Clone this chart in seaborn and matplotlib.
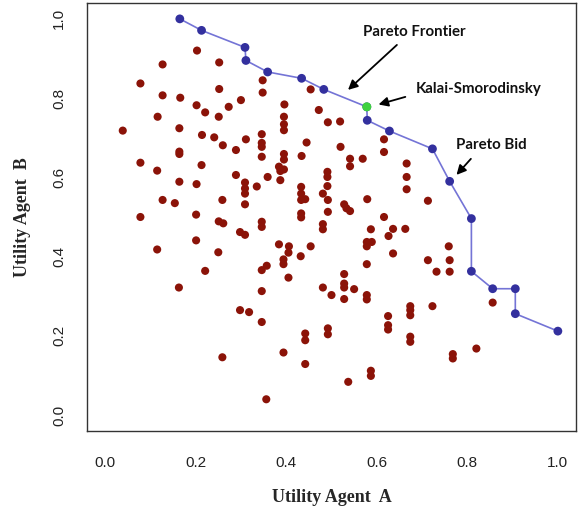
import matplotlib
matplotlib.use("Agg")
import matplotlib.pyplot as plt
import numpy as np
import pandas as pd
import seaborn as sns

# ---- data ----
bid_a = [0.203, 0.127, 0.252, 0.078, 0.127, 0.166, 0.252, 0.300, 0.348, 0.202,
         0.221, 0.273, 0.116, 0.251, 0.039, 0.164, 0.214, 0.241, 0.260, 0.289,
         0.311, 0.164, 0.164, 0.078, 0.213, 0.115, 0.289, 0.164, 0.202, 0.309,
         0.309, 0.309, 0.335, 0.127, 0.154, 0.259, 0.309, 0.078, 0.201, 0.251,
         0.261, 0.298, 0.309, 0.201, 0.115, 0.250, 0.221, 0.163, 0.298, 0.318,
         0.259, 0.348, 0.454, 0.396, 0.472, 0.395, 0.395, 0.395, 0.492, 0.519,
         0.346, 0.346, 0.346, 0.346, 0.445, 0.520, 0.616, 0.616, 0.395, 0.395,
         0.434, 0.541, 0.541, 0.569, 0.666, 0.666, 0.666, 0.384, 0.387, 0.387,
         0.395, 0.359, 0.491, 0.491, 0.491, 0.433, 0.433, 0.433, 0.442, 0.481,
         0.492, 0.492, 0.528, 0.533, 0.541, 0.579, 0.616, 0.713, 0.433, 0.346,
         0.433, 0.346, 0.481, 0.481, 0.587, 0.636, 0.663, 0.626, 0.578, 0.578,
         0.589, 0.384, 0.406, 0.405, 0.454, 0.432, 0.394, 0.394, 0.346, 0.357,
         0.636, 0.578, 0.713, 0.732, 0.405, 0.528, 0.528, 0.528, 0.481, 0.550,
         0.500, 0.528, 0.578, 0.578, 0.346, 0.346, 0.674, 0.674, 0.674, 0.723,
         0.625, 0.625, 0.625, 0.674, 0.674, 0.442, 0.442, 0.492, 0.492, 0.394,
         0.442, 0.587, 0.587, 0.537, 0.356, 0.759, 0.761, 0.761, 0.856, 0.820,
         0.768, 0.768]
bid_b = [0.920, 0.885, 0.890, 0.837, 0.807, 0.801, 0.823, 0.795, 0.845, 0.782,
         0.764, 0.778, 0.753, 0.753, 0.718, 0.724, 0.707, 0.701, 0.681, 0.669,
         0.696, 0.665, 0.659, 0.637, 0.631, 0.617, 0.606, 0.589, 0.583, 0.587,
         0.572, 0.559, 0.577, 0.543, 0.535, 0.543, 0.532, 0.500, 0.506, 0.489,
         0.484, 0.462, 0.455, 0.441, 0.418, 0.411, 0.364, 0.322, 0.265, 0.260,
         0.146, 0.814, 0.822, 0.784, 0.770, 0.753, 0.734, 0.719, 0.739, 0.741,
         0.709, 0.687, 0.677, 0.652, 0.688, 0.677, 0.696, 0.664, 0.659, 0.645,
         0.654, 0.647, 0.628, 0.647, 0.635, 0.601, 0.570, 0.627, 0.616, 0.593,
         0.620, 0.601, 0.614, 0.601, 0.578, 0.576, 0.559, 0.543, 0.545, 0.559,
         0.543, 0.513, 0.532, 0.522, 0.515, 0.545, 0.500, 0.541, 0.509, 0.488,
         0.499, 0.475, 0.482, 0.469, 0.469, 0.470, 0.470, 0.452, 0.437, 0.426,
         0.437, 0.431, 0.426, 0.410, 0.426, 0.401, 0.393, 0.381, 0.366, 0.377,
         0.408, 0.381, 0.391, 0.362, 0.347, 0.356, 0.332, 0.322, 0.322, 0.318,
         0.303, 0.293, 0.303, 0.292, 0.313, 0.235, 0.275, 0.265, 0.252, 0.275,
         0.250, 0.227, 0.216, 0.198, 0.185, 0.206, 0.189, 0.219, 0.204, 0.158,
         0.129, 0.112, 0.099, 0.084, 0.040, 0.426, 0.391, 0.362, 0.284, 0.168,
         0.154, 0.143]

pareto_a = [0.165, 0.213, 0.309, 0.311, 0.359, 0.434, 0.483, 0.578, 0.579,
            0.628, 0.723, 0.761, 0.809, 0.809, 0.856, 0.906, 0.906, 1.000]
pareto_b = [1.000, 0.971, 0.928, 0.895, 0.866, 0.850, 0.822, 0.778, 0.744,
            0.717, 0.672, 0.590, 0.496, 0.363, 0.319, 0.319, 0.256, 0.212]

ks_a = [0.578]
ks_b = [0.778]

tick_vals = [0.0, 0.2, 0.4, 0.6, 0.8, 1.0]

bids = pd.DataFrame({"a": bid_a, "b": bid_b})
front = pd.DataFrame({"a": pareto_a, "b": pareto_b})
ks = pd.DataFrame({"a": ks_a, "b": ks_b})

sns.set_style("white")

fig = plt.figure(figsize=(5.78, 5.11), dpi=100)
ax = fig.add_axes([0.1505, 0.1566, 0.8460, 0.8375])

sns.scatterplot(data=bids, x="a", y="b", color="#8b1308", s=34,
                edgecolor="none", ax=ax, zorder=2)
sns.lineplot(data=front, x="a", y="b", sort=False, color="#7474d6",
             linewidth=1.2, ax=ax, zorder=3, estimator=None)
sns.scatterplot(data=front, x="a", y="b", color="#33309e", s=40,
                edgecolor="none", ax=ax, zorder=4)
sns.scatterplot(data=ks, x="a", y="b", color="#3fd23f", s=42,
                edgecolor="none", ax=ax, zorder=5)

ax.set_xlim(-0.04, 1.04)
ax.set_ylim(-0.04, 1.04)
ax.set_xticks(tick_vals)
ax.set_yticks(tick_vals)
ax.set_xticklabels([f"{v:.1f}" for v in tick_vals], fontsize=11,
                   family="Liberation Sans", color="#222222")
ax.set_yticklabels([f"{v:.1f}" for v in tick_vals], fontsize=11,
                   family="Liberation Sans", color="#222222", rotation=90,
                   va="center")
ax.tick_params(direction="out", length=8, width=0.9, color="#444444", pad=7)
ax.tick_params(axis="x", pad=10)
for sp in ax.spines.values():
    sp.set_visible(True)
    sp.set_color("#333333")
    sp.set_linewidth(1.0)

ax.set_xlabel("Utility Agent  A", fontsize=13, fontweight="bold",
              family="Liberation Serif", labelpad=14)
ax.set_ylabel("Utility Agent  B", fontsize=13, fontweight="bold",
              family="Liberation Serif", labelpad=15)

# annotations
arrow = dict(arrowstyle="-|>", color="black", lw=1.3, mutation_scale=14)
note = dict(fontsize=10.8, fontweight="bold", family="Lato", ha="left",
            va="center", color="#111111")
ax.annotate("", xy=(0.532, 0.816), xytext=(0.649, 0.939), arrowprops=arrow)
ax.text(0.569, 0.966, "Pareto Frontier", **note)
ax.annotate("", xy=(0.598, 0.782), xytext=(0.669, 0.805), arrowprops=arrow)
ax.text(0.686, 0.822, "Kalai-Smorodinsky", **note)
ax.annotate("", xy=(0.772, 0.601), xytext=(0.812, 0.652), arrowprops=arrow)
ax.text(0.774, 0.681, "Pareto Bid", **note)

fig.savefig("out.png", dpi=100)
